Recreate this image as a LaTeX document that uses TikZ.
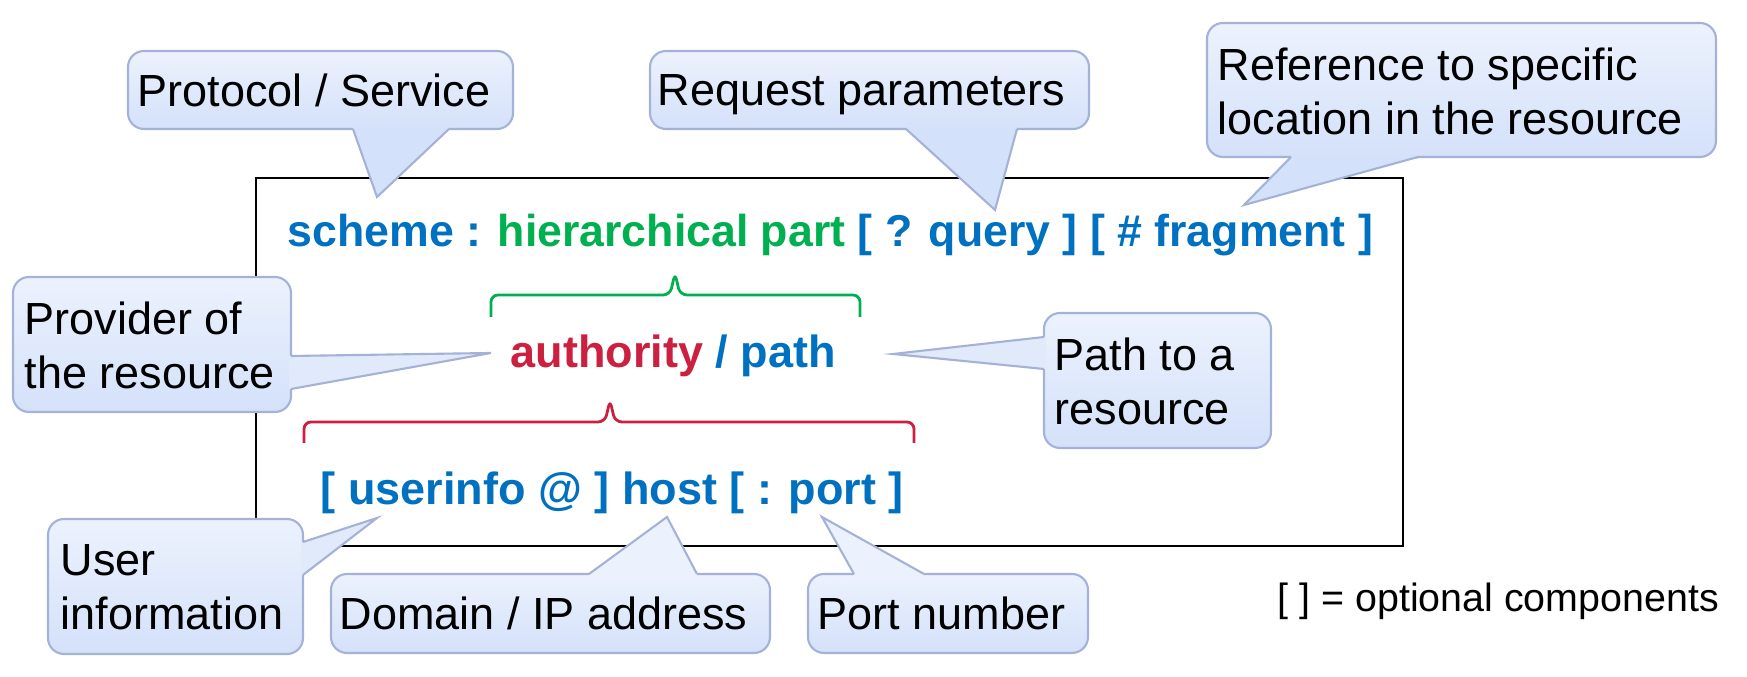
\documentclass[tikz,border=0pt]{standalone}
\usepackage{fontspec}
\setmainfont{Liberation Sans}

\definecolor{uriblue}{RGB}{0,112,192}
\definecolor{urigreen}{RGB}{0,176,80}
\definecolor{urired}{RGB}{204,32,64}
\definecolor{bubtop}{RGB}{236,242,253}
\definecolor{bubbot}{RGB}{212,225,250}
\definecolor{bubline}{RGB}{165,178,215}
\colorlet{bubmid}{bubtop!50!bubbot}

\newcommand{\fs}{\fontsize{12.8}{15.4}\selectfont}
\newcommand{\Rnd}{0.16cm}
% tail of a callout: base point, tip, base point, fill
\newcommand{\tail}[4]{
  \fill[#4] (#1) -- (#2) -- (#3) -- cycle;
  \draw[#4,line width=1.2pt] (#1) -- (#3);
  \draw[tailline] (#1) -- (#2) -- (#3);
}

\tikzset{
  bubble/.style={draw=bubline,line width=0.6pt,rounded corners=\Rnd,top color=bubtop,bottom color=bubbot},
  tailline/.style={draw=bubline,line width=0.6pt},
  txt/.style={anchor=base west,inner sep=0pt,align=left,font=\fs},
  uri/.style={anchor=base west,inner sep=0pt,font=\fs\bfseries},
  curly/.style={draw=#1,line width=0.8pt,rounded corners=0.07cm}
}

\begin{document}
\begin{tikzpicture}[x=0.01cm,y=-0.01cm]
  \useasboundingbox (0,0) rectangle (1747,677);
  \draw[line width=0.6pt] (256,178) rectangle (1403,546);

  % the three lines
  \node[uri,font=\fontsize{12.7}{15.4}\selectfont\bfseries] (uri) at (287,247) {{\color{uriblue}scheme :} {\color{urigreen}hierarchical part} {\color{uriblue}[ ? query ] [ \# fragment ]}};
  \node[uri] (hier) at (510,368) {{\color{urired}authority} {\color{uriblue}/ path}};
  \node[uri] (auth) at (320,505) {\color{uriblue}[ userinfo @ ] host [ : port ]};

  % braces
  \draw[curly=urigreen] (491,317) -- (491,295) -- (670,295) -- (675,273) -- (680,295) -- (860,295) -- (860,317);
  \draw[curly=urired] (304,443) -- (304,422) -- (605,422) -- (610,400) -- (615,422) -- (914,422) -- (914,443);

  % callouts
  \coordinate (tProt) at (377,197);
  \coordinate (tReq) at (995,210);
  \coordinate (tFrag) at (1244,205);
  \coordinate (tProv) at (491,353);
  \coordinate (tPath) at (893,354);
  \coordinate (tUser) at (377,518);
  \coordinate (tHost) at (667,517);
  \coordinate (tPort) at (822,517);

  \draw[bubble] (128,51) rectangle (513,129);
  \tail{353,129}{tProt}{449,129}{bubbot}
  \node[txt] (prot) at (137,107) {Protocol / Service};

  \draw[bubble] (650,51) rectangle (1089,129);
  \tail{906,129}{tReq}{1017,129}{bubbot}
  \node[txt] (req) at (657,106) {Request parameters};

  \draw[bubble] (1207,23) rectangle (1716,157);
  \tail{1291,157}{tFrag}{1418,157}{bubbot}
  \node[txt] (frag) at (1217,135) {Reference to specific\\location in the resource};

  \draw[bubble] (13,277) rectangle (291,412);
  \tail{291,356}{tProv}{291,389}{bubmid}
  \node[txt] (prov) at (24,389) {Provider of\\the resource};

  \draw[bubble] (1044,313) rectangle (1271,448);
  \tail{1044,337}{tPath}{1044,369}{bubmid}
  \node[txt] (path) at (1054,425) {Path to a\\resource};

  \draw[bubble] (48,519) rectangle (303,654);
  \tail{303,542}{tUser}{303,575}{bubmid}
  \node[txt] (user) at (60,630) {User\\information};

  \draw[bubble] (331,574) rectangle (770,653);
  \tail{589,574}{tHost}{697,574}{bubtop}
  \node[txt] (host) at (339,630) {Domain / IP address};

  \draw[bubble] (808,574) rectangle (1088,653);
  \tail{854,574}{tPort}{924,574}{bubtop}
  \node[txt] (port) at (817,630) {Port number};

  \node[txt,font=\fontsize{11.2}{13.4}\selectfont] (legend) at (1277,612) {[ ] = optional components};
\end{tikzpicture}
\end{document}
